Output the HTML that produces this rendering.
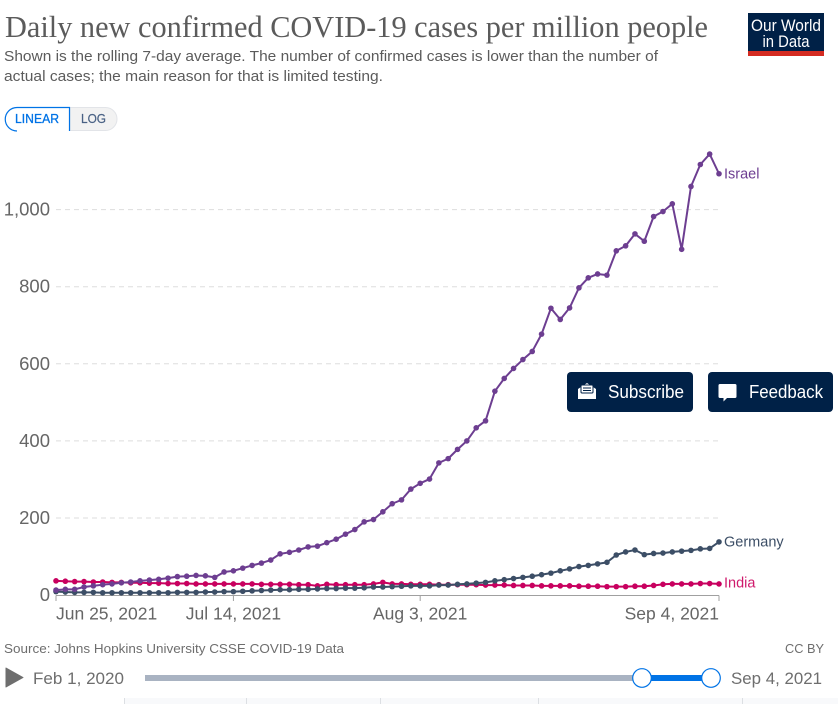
<!DOCTYPE html>
<html lang="en">
<head>
<meta charset="utf-8">
<title>Daily new confirmed COVID-19 cases per million people</title>
<style>
html,body{margin:0;padding:0;background:#fff;width:838px;height:704px;overflow:hidden}
svg{display:block}
text{font-family:"Liberation Sans",sans-serif}
.serif{font-family:"Liberation Serif",serif}
</style>
</head>
<body>
<svg id="chart" xmlns="http://www.w3.org/2000/svg" width="838" height="704" viewBox="0 0 838 704">
  <rect x="124" y="698" width="714" height="6" fill="#f8f9fb"/>
  <path d="M124.5 698V704M246.5 698V704M380.5 698V704M538.5 698V704M742.5 698V704" stroke="#dcdfe3"/>

  <text class="serif" x="5" y="37" font-size="31" fill="#5b5b5b" textLength="703" lengthAdjust="spacingAndGlyphs">Daily new confirmed COVID-19 cases per million people</text>
  <text x="4" y="61" font-size="14.5" fill="#5b5b5b" textLength="654" lengthAdjust="spacingAndGlyphs">Shown is the rolling 7-day average. The number of confirmed cases is lower than the number of</text>
  <text x="4" y="81" font-size="14.5" fill="#5b5b5b" textLength="379" lengthAdjust="spacingAndGlyphs">actual cases; the main reason for that is limited testing.</text>

  <g>
    <rect x="748" y="13" width="76" height="43" fill="#002147"/>
    <rect x="748" y="51" width="76" height="5" fill="#d42b21"/>
    <text x="786" y="31" font-size="17" fill="#fff" text-anchor="middle" textLength="70" lengthAdjust="spacingAndGlyphs">Our World</text>
    <text x="786" y="47" font-size="17" fill="#fff" text-anchor="middle" textLength="47" lengthAdjust="spacingAndGlyphs">in Data</text>
  </g>

  <g>
    <path d="M70 107.5H105.5a11.500 11.500 0 0 1 0 23H70Z" fill="#f2f2f2" stroke="#e2e4e8"/>
    <path d="M17 131A11.500 11.500 0 0 1 17 107.500H69.500V131" fill="#fff" stroke="#0073e6" stroke-width="1.200"/>
    <text x="15" y="123" font-size="13" fill="#0073e6" stroke="#0073e6" stroke-width="0.300" textLength="44" lengthAdjust="spacingAndGlyphs">LINEAR</text>
    <text x="81" y="123" font-size="13" fill="#4a6285" stroke="#4a6285" stroke-width="0.200" textLength="25" lengthAdjust="spacingAndGlyphs">LOG</text>
  </g>

  <g id="grid"></g>
  <g id="yticks"></g>
  <g id="xaxis"></g>
  <g id="series"></g>

  <g>
    <rect x="567" y="372" width="126" height="40" rx="4" fill="#002147"/>
    <path d="M578 389l9-6 9 6v10h-18Z" fill="#fff"/>
    <rect x="581" y="385" width="12" height="8" rx="1" fill="#fff" stroke="#002147"/>
    <path d="M583 388h8M583 390.500h8" stroke="#002147"/>
    <text x="608" y="398" font-size="18" fill="#fff" textLength="76" lengthAdjust="spacingAndGlyphs">Subscribe</text>
  </g>
  <g>
    <rect x="708" y="372" width="125" height="40" rx="4" fill="#002147"/>
    <path d="M720 384h15a1.500 1.500 0 0 1 1.500 1.500v11a1.500 1.500 0 0 1-1.500 1.500h-8l-3.500 3.500v-3.500h-3.500a1.500 1.500 0 0 1-1.500-1.500v-11a1.500 1.500 0 0 1 1.500-1.500Z" fill="#fff"/>
    <text x="749" y="398" font-size="18" fill="#fff" textLength="74" lengthAdjust="spacingAndGlyphs">Feedback</text>
  </g>

  <text x="4" y="653" font-size="13" fill="#6e6e6e" textLength="340" lengthAdjust="spacingAndGlyphs">Source: Johns Hopkins University CSSE COVID-19 Data</text>
  <text x="785" y="653" font-size="13" fill="#6e6e6e" textLength="39" lengthAdjust="spacingAndGlyphs">CC BY</text>

  <path d="M6 668L23 677.500L6 687Z" fill="#6e6e6e" stroke="#6e6e6e" stroke-linejoin="round"/>
  <text x="33" y="684" font-size="17" fill="#6e6e6e" textLength="91" lengthAdjust="spacingAndGlyphs">Feb 1, 2020</text>
  <rect x="145" y="675" width="500" height="6" fill="#a9b3c2"/>
  <rect x="642" y="675" width="69" height="6" fill="#0073e6"/>
  <circle cx="642" cy="678" r="9.300" fill="#fff" stroke="#0073e6" stroke-width="1.200"/>
  <circle cx="711" cy="678" r="9.300" fill="#fff" stroke="#0073e6" stroke-width="1.200"/>
  <text x="731" y="684" font-size="17" fill="#6e6e6e" textLength="91" lengthAdjust="spacingAndGlyphs">Sep 4, 2021</text>
</svg>

<script>
const yTicks = [0, 200, 400, 600, 800, 1000];
const yTickLabels = ["0", "200", "400", "600", "800", "1,000"];
const xTickDays = [0, 19, 39, 71];
const xTickLabels = ["Jun 25, 2021", "Jul 14, 2021", "Aug 3, 2021", "Sep 4, 2021"];
const seriesNames = ["India", "Germany", "Israel"];
const india = [37,36,35,35,34,34,33,33,32,32,31,31,30,30,30,29,29,29,29,29,29,29,28,28,28,28,27,27,24,28,27,27,27,27,29,33,29,29,28,28,28,27,27,27,27,27,26,26,26,25,25,25,24,24,24,24,23,23,23,22,22,22,23,23,25,28,29,29,29,30,30,29];
const germany = [9,8,7,7,7,6,6,6,6,6,6,6,6,7,7,7,8,8,9,9,10,11,12,13,14,14,15,15,16,17,17,18,18,19,21,21,22,23,24,24,24,26,26,28,29,31,33,37,40,43,46,49,53,57,63,68,74,77,81,85,104,112,117,105,108,109,112,114,116,120,121,138];
const israel = [13,15,15,21,24,27,29,32,34,37,39,41,44,48,49,51,50,46,60,63,70,77,83,91,107,111,117,125,127,136,145,158,170,190,196,216,237,247,275,290,301,343,354,378,400,434,452,529,562,588,611,632,677,744,715,745,797,823,833,830,893,906,937,918,982,995,1015,897,1060,1117,1144,1093];

const NS = "http://www.w3.org/2000/svg";
const seriesValues = [india, germany, israel];
const lineColors = ["#c8005f", "#3c4e66", "#6d3e91"];
const labelColors = ["#cf1a6c", "#3c4e66", "#6d3e91"];
const labelNudge = [-1.5, -0.5, 0];

const plotLeft = 56, plotRight = 719, zeroY = 595.1, pxPerUnit = 0.3855;
const lastDay = israel.length - 1;
function xScale(day) { return plotLeft + (plotRight - plotLeft) * day / lastDay; }
function yScale(value) { return zeroY - value * pxPerUnit; }

function make(tag, attrs, parent) {
  const el = document.createElementNS(NS, tag);
  for (const key in attrs) el.setAttribute(key, attrs[key]);
  parent.appendChild(el);
  return el;
}

const gridGroup = document.getElementById("grid");
const yGroup = document.getElementById("yticks");
yTicks.forEach(function (tick, i) {
  if (tick !== 0) {
    const line = make("line", {x1: plotLeft, x2: plotRight, y1: yScale(tick), y2: yScale(tick), stroke: "#dddddd", "stroke-dasharray": "5 4"}, gridGroup);
    
    
  }
  const label = make("text", {x: 50, y: yScale(tick) + 6, "font-size": 18.5, fill: "#666666", "text-anchor": "end"}, yGroup);
  label.textContent = yTickLabels[i];
  
  
});

const xGroup = document.getElementById("xaxis");
const axisLine = make("line", {x1: plotLeft, x2: plotRight, y1: 595.5, y2: 595.5, stroke: "#a0a0a0"}, xGroup);


xTickDays.forEach(function (day, i) {
  const x = xScale(day);
  const tick = make("line", {x1: x, x2: x, y1: 595.5, y2: 601, stroke: "#a0a0a0"}, xGroup);
  
  
  const anchor = i === 0 ? "start" : (i === xTickDays.length - 1 ? "end" : "middle");
  const label = make("text", {x: x, y: 619.5, "font-size": 17.5, fill: "#666666", "text-anchor": anchor}, xGroup);
  label.textContent = xTickLabels[i];
  
  
});

const seriesGroup = document.getElementById("series");
seriesNames.forEach(function (name, s) {
  const values = seriesValues[s];
  const group = make("g", {}, seriesGroup);
  
  
  const pts = values.map(function (v, d) { return xScale(d).toFixed(2) + "," + yScale(v).toFixed(2); }).join(" ");
  const line = make("polyline", {points: pts, fill: "none", stroke: lineColors[s], "stroke-width": 2, "stroke-linejoin": "round"}, group);
  
  
  values.forEach(function (v, d) {
    const dot = make("circle", {cx: xScale(d), cy: yScale(v), r: 2.8, fill: lineColors[s]}, group);
    
    
  });
  const label = make("text", {x: 724, y: yScale(values[lastDay]) + 5 + labelNudge[s], "font-size": 14.5, fill: labelColors[s]}, group);
  label.textContent = name;
  
  
});
</script>
</body>
</html>
